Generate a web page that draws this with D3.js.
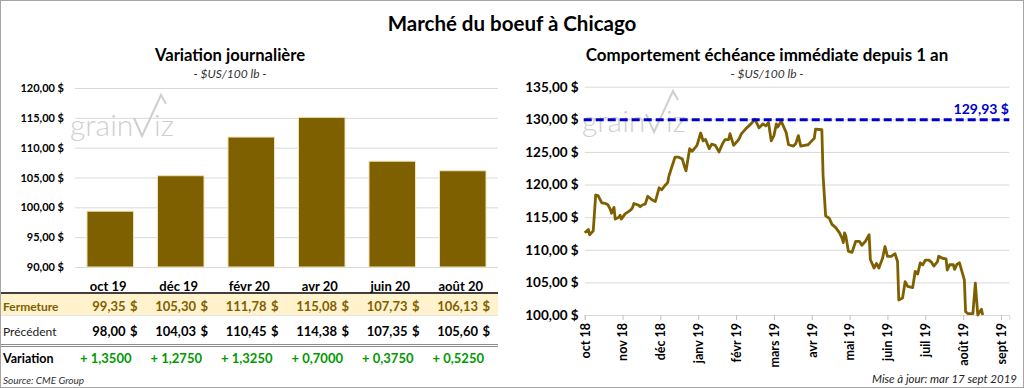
<!DOCTYPE html>
<html>
<head>
<meta charset="utf-8">
<script src="https://cdn.jsdelivr.net/npm/d3@7"></script>
<style>
  body { margin: 0; background: #fff; }
  svg { display: block; font-family: Lato, "Open Sans", sans-serif; }
</style>
</head>
<body>
<svg id="chart"></svg>
<script>
// contracts table / bar chart
var contracts = ["oct 19", "déc 19", "févr 20", "avr 20", "juin 20", "août 20"];
var closePrices = [99.35, 105.30, 111.78, 115.08, 107.73, 106.13];
var prevPrices = [98.00, 104.03, 110.45, 114.38, 107.35, 105.60];
var variations = [1.3500, 1.2750, 1.3250, 0.7000, 0.3750, 0.5250];
var barTicks = [90, 95, 100, 105, 110, 115, 120];

// nearby contract, last 12 months
var monthLabels = ["oct 18", "nov 18", "déc 18", "janv 19", "févr 19", "mars 19",
  "avr 19", "mai 19", "juin 19", "juil 19", "août 19", "sept 19"];
var lineTicks = [100, 105, 110, 115, 120, 125, 130, 135];
var yearHigh = 129.93;
var priceDates = [
  "2018-10-01", "2018-10-04", "2018-10-05", "2018-10-08", "2018-10-10", "2018-10-12", "2018-10-15",
  "2018-10-18", "2018-10-20", "2018-10-22", "2018-10-23", "2018-10-25", "2018-10-26", "2018-10-29",
  "2018-10-30", "2018-10-31", "2018-11-03", "2018-11-06", "2018-11-08", "2018-11-09", "2018-11-10",
  "2018-11-14", "2018-11-15", "2018-11-17", "2018-11-19", "2018-11-21", "2018-11-24", "2018-11-27",
  "2018-11-30", "2018-12-02", "2018-12-05", "2018-12-07", "2018-12-08", "2018-12-10", "2018-12-13",
  "2018-12-16", "2018-12-19", "2018-12-21", "2018-12-22", "2018-12-25", "2018-12-27", "2018-12-31",
  "2019-01-03", "2019-01-05", "2019-01-07", "2019-01-10", "2019-01-12", "2019-01-15", "2019-01-18",
  "2019-01-21", "2019-01-23", "2019-01-26", "2019-01-27", "2019-01-30", "2019-02-03", "2019-02-05",
  "2019-02-08", "2019-02-12", "2019-02-15", "2019-02-18", "2019-02-21", "2019-02-23", "2019-02-25",
  "2019-02-27", "2019-03-01", "2019-03-03", "2019-03-04", "2019-03-07", "2019-03-11", "2019-03-13",
  "2019-03-17", "2019-03-19", "2019-03-21", "2019-03-23", "2019-03-26", "2019-03-29", "2019-03-31",
  "2019-04-03", "2019-04-04", "2019-04-09", "2019-04-10", "2019-04-12", "2019-04-15", "2019-04-17",
  "2019-04-20", "2019-04-23", "2019-04-25", "2019-04-26", "2019-04-27", "2019-04-28", "2019-04-30",
  "2019-05-03", "2019-05-06", "2019-05-09", "2019-05-11", "2019-05-14", "2019-05-17", "2019-05-18",
  "2019-05-21", "2019-05-23", "2019-05-25", "2019-05-28", "2019-05-30", "2019-06-01", "2019-06-04",
  "2019-06-07", "2019-06-09", "2019-06-10", "2019-06-13", "2019-06-15", "2019-06-17", "2019-06-21",
  "2019-06-23", "2019-06-25", "2019-06-27", "2019-06-29", "2019-07-01", "2019-07-04", "2019-07-06",
  "2019-07-08", "2019-07-11", "2019-07-12", "2019-07-15", "2019-07-18", "2019-07-19", "2019-07-21",
  "2019-07-24", "2019-07-25", "2019-07-27", "2019-07-29", "2019-08-02", "2019-08-03", "2019-08-05",
  "2019-08-09", "2019-08-11", "2019-08-13", "2019-08-16", "2019-08-17"
];
var priceValues = [
  112.6, 113.1, 112.3, 112.9, 118.4, 118.3, 117.2,
  117.1, 116.9, 116.2, 115.6, 116.5, 114.7, 115.0,
  115.3, 114.7, 115.5, 115.9, 116.2, 116.5, 117.1,
  116.8, 116.6, 116.9, 117.0, 118.2, 117.7, 117.4,
  119.5, 119.2, 119.9, 120.3, 121.3, 122.5, 124.2,
  124.2, 123.9, 122.6, 122.1, 125.5, 125.1, 126.0,
  127.9, 126.7, 126.9, 125.5, 126.2, 126.0, 125.0,
  126.3, 126.9, 126.9, 127.8, 126.0, 126.9, 127.8,
  128.5, 129.3, 130.0, 128.7, 129.3, 129.0, 129.5,
  126.7, 127.5, 129.3, 128.8, 129.7, 128.0, 126.1,
  125.9, 126.3, 127.5, 125.9, 126.0, 126.1, 126.5,
  127.1, 128.5, 128.4, 121.3, 115.2, 114.8, 113.9,
  113.4, 112.6, 111.8, 111.1, 112.6, 112.1, 109.8,
  109.6, 111.3, 111.3, 110.7, 111.3, 112.3, 108.5,
  107.2, 107.9, 107.2, 108.7, 110.5, 109.0, 109.0,
  109.4, 108.2, 102.3, 102.6, 105.1, 104.4, 104.2,
  106.7, 106.3, 108.0, 107.7, 108.4, 108.4, 108.1,
  107.5, 108.2, 109.0, 108.7, 108.6, 106.9, 107.7,
  107.7, 107.0, 107.8, 108.0, 105.4, 100.5, 100.2,
  100.2, 104.9, 100.0, 100.9, 100.0
];

var W = 1024, H = 388;
var gold = "#7F6000", grid = "#D9D9D9", blue = "#0000CC";
var fr = d3.formatLocale({ decimal: ",", thousands: " ", grouping: [3], currency: ["", " $"] });
var f2 = fr.format(".2f"), f4 = fr.format(".4f");
var parseDate = d3.timeParse("%Y-%m-%d");

var svg = d3.select("#chart").attr("width", W).attr("height", H);

svg.append("rect").attr("x", 0.5).attr("y", 0.5).attr("width", W - 1).attr("height", H - 1)
  .attr("fill", "#fff").attr("stroke", "#A6A6A6");

svg.append("text").attr("x", 512).attr("y", 31).attr("text-anchor", "middle")
  .attr("font-size", 20.5).attr("font-weight", "bold").text("Marché du boeuf à Chicago");

function panelTitle(cx, title, size) {
  svg.append("text").attr("x", cx).attr("y", 61).attr("text-anchor", "middle")
    .attr("font-size", size).attr("font-weight", "bold").text(title);
  svg.append("text").attr("x", cx).attr("y", 78).attr("text-anchor", "middle")
    .attr("font-size", 12).attr("font-style", "italic").attr("fill", "#333").text("- $US/100 lb -");
}

function watermark(dx, dy) {
  var g = svg.append("g").attr("transform", "translate(" + dx + "," + dy + ")")
    .attr("fill", "#CFCFCF").attr("stroke", "none");
  g.append("text").attr("x", 70).attr("y", 136).attr("font-size", 30).attr("font-weight", 300).text("grain");
  g.append("path").attr("d", "M134,118 L142,136 L161,95 L166,104")
    .attr("fill", "none").attr("stroke", "#CFCFCF").attr("stroke-width", 2);
  g.append("text").attr("x", 154).attr("y", 136).attr("font-size", 30).attr("font-weight", 300).text("iz");
}

// ---------- left: daily variation ----------
panelTitle(230, "Variation journalière", 16.6);

var xb = d3.scaleBand().domain(contracts).range([75, 498]).paddingInner(0.34).paddingOuter(0.17);
var yb = d3.scaleLinear().domain([90, 120]).range([267, 88]);

var axL = svg.append("g").attr("transform", "translate(75,0)")
  .call(d3.axisLeft(yb).tickValues(barTicks).tickSize(-(498 - 75)).tickPadding(11)
    .tickFormat(function (d) { return f2(d) + " $"; }));
axL.select(".domain").remove();
axL.selectAll("line").attr("stroke", grid);
axL.selectAll("text").attr("font-size", 11).attr("font-weight", "bold").attr("fill", "#000")
  .attr("font-family", "Lato, sans-serif");

watermark(0, 0);

svg.append("g").selectAll("rect").data(contracts).enter().append("rect")
  .attr("x", function (d) { return xb(d); })
  .attr("y", function (d, i) { return yb(closePrices[i]); })
  .attr("width", xb.bandwidth())
  .attr("height", function (d, i) { return yb(90) - yb(closePrices[i]); })
  .attr("fill", gold).attr("stroke", "#F2E3B3").attr("stroke-width", 1);

// table under the bars
var colRight = function (i) { return xb(contracts[i]) + xb.bandwidth() + 4; };
var tbl = svg.append("g");
tbl.append("rect").attr("x", 1).attr("y", 294).attr("width", 497).attr("height", 21).attr("fill", "#FFF2CC");
tbl.append("line").attr("x1", 1).attr("x2", 498).attr("y1", 293).attr("y2", 293)
  .attr("stroke", "#404040").attr("stroke-width", 2);
tbl.append("line").attr("x1", 1).attr("x2", 498).attr("y1", 315.5).attr("y2", 315.5)
  .attr("stroke", "#E6E6E6").attr("stroke-width", 1);
tbl.append("line").attr("x1", 1).attr("x2", 498).attr("y1", 344.5).attr("y2", 344.5)
  .attr("stroke", "#8C8C8C").attr("stroke-width", 1);
tbl.append("line").attr("x1", 1).attr("x2", 498).attr("y1", 346.5).attr("y2", 346.5)
  .attr("stroke", "#8C8C8C").attr("stroke-width", 1);

tbl.selectAll(".hdr").data(contracts).enter().append("text")
  .attr("x", function (d, i) { return xb(d) + xb.bandwidth() / 2 - 2; }).attr("y", 291)
  .attr("text-anchor", "middle").attr("font-size", 13).attr("font-weight", "bold").text(function (d) { return d; });

tbl.append("text").attr("x", 3).attr("y", 311).attr("font-size", 12).attr("font-weight", "bold")
  .attr("fill", gold).text("Fermeture");
tbl.append("text").attr("x", 3).attr("y", 336).attr("font-size", 12).attr("fill", "#222").text("Précédent");
tbl.append("text").attr("x", 3).attr("y", 363).attr("font-size", 12.5).attr("font-weight", "bold").text("Variation");

function moneyRow(values, y, color) {
  var row = tbl.append("g").attr("font-size", 13).attr("font-weight", "bold").attr("fill", color);
  row.selectAll(".n").data(values).enter().append("text")
    .attr("x", function (d, i) { return colRight(i) - 12; }).attr("y", y).attr("text-anchor", "end")
    .text(function (d) { return f2(d); });
  row.selectAll(".c").data(values).enter().append("text")
    .attr("x", function (d, i) { return colRight(i); }).attr("y", y).attr("text-anchor", "end").text("$");
}
moneyRow(closePrices, 311, gold);
moneyRow(prevPrices, 336, "#000");

tbl.selectAll(".var").data(variations).enter().append("text")
  .attr("x", function (d, i) { return colRight(i) - 6; }).attr("y", 363).attr("text-anchor", "end")
  .attr("font-size", 13).attr("font-weight", "bold").attr("fill", "#009900")
  .text(function (d) { return "+ " + f4(d); });

svg.append("text").attr("x", 3).attr("y", 384).attr("font-size", 10).attr("font-style", "italic")
  .attr("fill", "#333").text("Source: CME Group");

// ---------- right: nearby contract over 1 year ----------
panelTitle(767, "Comportement échéance immédiate depuis 1 an", 16.9);

function monthIndex(dt) {
  var days = new Date(dt.getFullYear(), dt.getMonth() + 1, 0).getDate();
  return (dt.getFullYear() - 2018) * 12 + dt.getMonth() - 9 + (dt.getDate() - 1) / days;
}
var xl = d3.scaleLinear().domain([0, 11.22]).range([584.7, 1009.3]);
var yl = d3.scaleLinear().domain([100, 135]).range([315, 86.7]);

var axR = svg.append("g").attr("transform", "translate(584.7,0)")
  .call(d3.axisLeft(yl).tickValues(lineTicks).tickSize(-(1009.3 - 584.7)).tickPadding(6)
    .tickFormat(function (d) { return f2(d) + " $"; }));
axR.select(".domain").remove();
axR.selectAll("line").attr("stroke", grid);
axR.selectAll("text").attr("font-size", 13.5).attr("font-weight", "bold").attr("fill", "#000")
  .attr("font-family", "Lato, sans-serif");

var axX = svg.append("g").attr("transform", "translate(0,315)")
  .call(d3.axisBottom(xl).tickValues(d3.range(monthLabels.length)).tickSize(5)
    .tickFormat(function (i) { return monthLabels[i]; }));
axX.select(".domain").attr("stroke", grid);
axX.selectAll("line").attr("stroke", "#BFBFBF");
axX.selectAll("text").attr("transform", "rotate(-90)").attr("x", -8).attr("y", 0).attr("dy", "0.35em")
  .style("text-anchor", "end").attr("font-size", 12.5).attr("font-weight", "bold").attr("fill", "#000")
  .attr("font-family", "Lato, sans-serif");

watermark(512, -4);

var pts = priceDates.map(function (d, i) { return [monthIndex(parseDate(d)), priceValues[i]]; });
svg.append("path").datum(pts)
  .attr("fill", "none").attr("stroke", gold).attr("stroke-width", 2.8).attr("stroke-linejoin", "round")
  .attr("d", d3.line().x(function (d) { return xl(d[0]); }).y(function (d) { return yl(d[1]); }));

svg.append("line").attr("x1", 583.7).attr("x2", 1009.3).attr("y1", yl(yearHigh)).attr("y2", yl(yearHigh))
  .attr("stroke", blue).attr("stroke-width", 3).attr("stroke-dasharray", "8,4");
svg.append("text").attr("x", 1009).attr("y", 114).attr("text-anchor", "end")
  .attr("font-size", 14).attr("font-weight", "bold").attr("fill", blue).text(f2(yearHigh) + " $");

svg.append("text").attr("x", 1017).attr("y", 383).attr("text-anchor", "end")
  .attr("font-size", 11.5).attr("font-style", "italic").attr("fill", "#222").text("Mise à jour: mar 17 sept 2019");
</script>
</body>
</html>
